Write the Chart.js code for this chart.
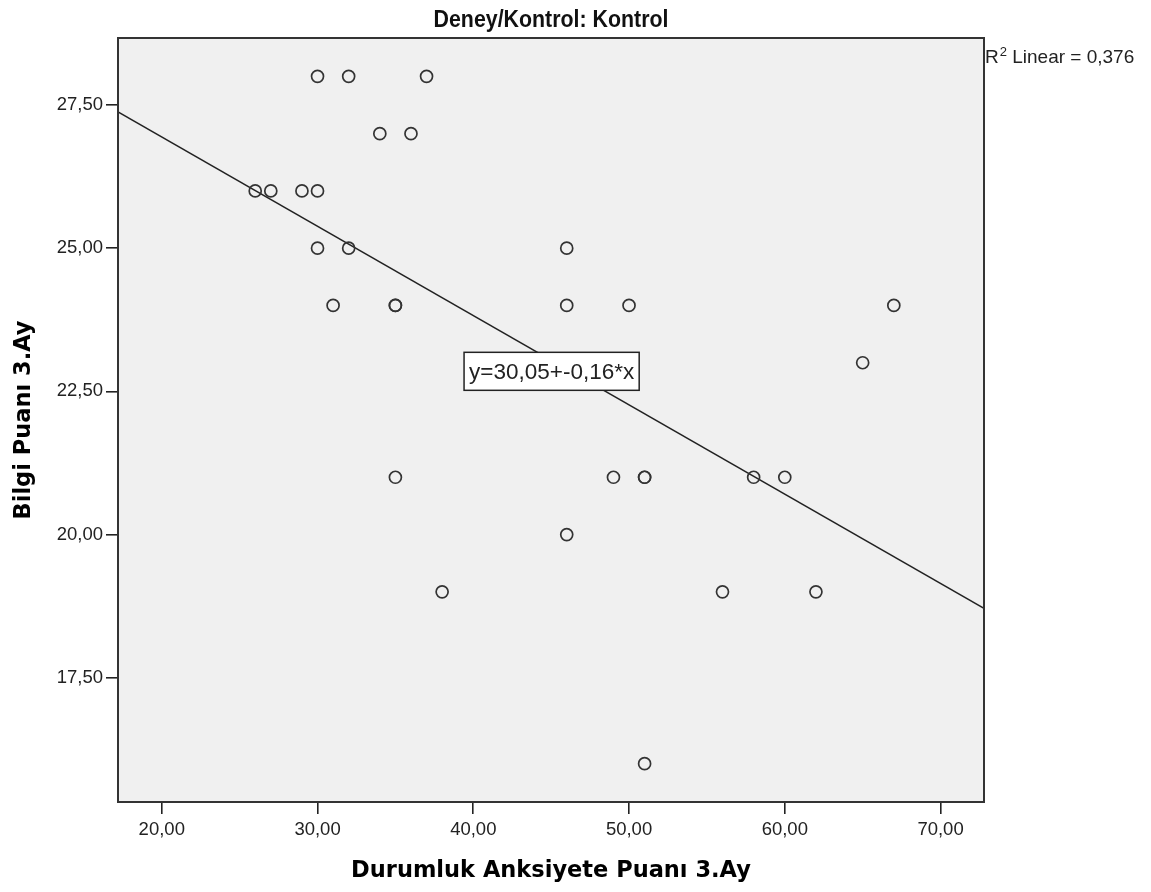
<!DOCTYPE html>
<html>
<head>
<meta charset="utf-8">
<title>Deney/Kontrol: Kontrol</title>
<script src="https://cdn.jsdelivr.net/npm/chart.js@4.4.1/dist/chart.umd.min.js"></script>
<style>
  html, body { margin: 0; padding: 0; background: #fff; }
  canvas { display: block; }
</style>
</head>
<body>
<canvas id="scatter" width="1151" height="892"></canvas>
<script>
// Kontrol grubu, 3. ay: anksiyete puanı (x) ve bilgi puanı (y)
const anksiyete = [30, 32, 37, 34, 36, 26, 27, 29, 30, 30, 32, 46, 31, 35, 35, 46, 50, 67, 65, 35, 49, 51, 51, 58, 60, 46, 38, 56, 62, 51]
const bilgi     = [28, 28, 28, 27, 27, 26, 26, 26, 26, 25, 25, 25, 24, 24, 24, 24, 24, 24, 23, 21, 21, 21, 21, 21, 21, 20, 19, 19, 19, 16]

const xTicks = [20, 30, 40, 50, 60, 70]
const yTicks = [17.5, 20, 22.5, 25, 27.5]
const xRange = [17.19, 72.79]
const yRange = [15.33, 28.67]

const equationText = 'y=30,05+-0,16*x'
const equationAt = { x: 45.03, y: 22.85 }

const comma = (v, d = 2) => v.toFixed(d).replace('.', ',')

// least squares fit for the reference line and R²
function linearFit (xs, ys) {
  const n = xs.length
  const mx = xs.reduce((s, v) => s + v, 0) / n
  const my = ys.reduce((s, v) => s + v, 0) / n
  let sxy = 0, sxx = 0, syy = 0
  xs.forEach((x, i) => {
    sxy += (x - mx) * (ys[i] - my)
    sxx += (x - mx) ** 2
    syy += (ys[i] - my) ** 2
  })
  const slope = sxy / sxx
  return { slope, intercept: my - slope * mx, r2: (sxy * sxy) / (sxx * syy) }
}

const fit = linearFit(anksiyete, bilgi)
const fitAt = x => ({ x, y: fit.intercept + fit.slope * x })

// grey plot panel, frame, panel title, R² note and equation box
const spssFrame = {
  id: 'spssFrame',
  beforeDraw (chart) {
    const { ctx, chartArea: a } = chart
    ctx.save()
    ctx.fillStyle = '#f0f0f0'
    ctx.fillRect(a.left, a.top, a.right - a.left, a.bottom - a.top)
    ctx.restore()
  },
  afterDraw (chart) {
    const { ctx, chartArea: a, scales } = chart
    ctx.save()
    ctx.strokeStyle = '#333'
    ctx.lineWidth = 2
    ctx.strokeRect(a.left, a.top, a.right - a.left, a.bottom - a.top)

    // panel title in a narrow bold face
    ctx.save()
    ctx.fillStyle = '#111'
    ctx.textAlign = 'center'
    ctx.textBaseline = 'alphabetic'
    ctx.font = 'bold 24px "Liberation Sans", sans-serif'
    ctx.translate((a.left + a.right) / 2, 27)
    ctx.scale(0.89, 1)
    ctx.fillText('Deney/Kontrol: Kontrol', 0, 0)
    ctx.restore()

    // R² Linear note, just outside the top right corner
    ctx.textAlign = 'left'
    ctx.textBaseline = 'alphabetic'
    ctx.fillStyle = '#222'
    let x = a.right + 1
    ctx.font = '19px "Liberation Sans", sans-serif'
    ctx.fillText('R', x, a.top + 25)
    x += ctx.measureText('R').width + 1
    ctx.font = '13px "Liberation Sans", sans-serif'
    ctx.fillText('2', x, a.top + 18)
    x += ctx.measureText('2').width
    ctx.font = '19px "Liberation Sans", sans-serif'
    ctx.fillText(' Linear = ' + comma(fit.r2, 3), x, a.top + 25)

    // fit equation in a white box
    const cx = scales.x.getPixelForValue(equationAt.x)
    const cy = scales.y.getPixelForValue(equationAt.y)
    ctx.font = '22.5px "Liberation Sans", sans-serif'
    const w = ctx.measureText(equationText).width + 10
    const h = 38
    ctx.fillStyle = '#fff'
    ctx.fillRect(cx - w / 2, cy - h / 2, w, h)
    ctx.lineWidth = 1.5
    ctx.strokeStyle = '#222'
    ctx.strokeRect(cx - w / 2, cy - h / 2, w, h)
    ctx.fillStyle = '#222'
    ctx.textAlign = 'center'
    ctx.textBaseline = 'middle'
    ctx.fillText(equationText, cx, cy + 1)
    ctx.restore()
  },
}

Chart.defaults.font.family = '"Liberation Sans", Arial, sans-serif'

const axisTitleFont = { family: '"DejaVu Sans", sans-serif', weight: 'bold', size: 22.5 }
const tickMarks = { drawOnChartArea: false, drawTicks: true, tickLength: 12, color: '#222', lineWidth: 1.6 }

new Chart(document.getElementById('scatter'), {
  type: 'scatter',
  data: {
    datasets: [
      {
        label: 'Kontrol',
        data: anksiyete.map((x, i) => ({ x, y: bilgi[i] })),
        pointStyle: 'circle',
        pointRadius: 6,
        pointBorderWidth: 1.7,
        pointBorderColor: '#333',
        pointBackgroundColor: 'rgba(0,0,0,0)',
        order: 1,
      },
      {
        type: 'line',
        label: 'Linear',
        data: [fitAt(xRange[0]), fitAt(xRange[1])],
        borderColor: '#222',
        borderWidth: 1.5,
        pointRadius: 0,
        fill: false,
        order: 2,
      },
    ],
  },
  options: {
    responsive: false,
    animation: false,
    devicePixelRatio: 1,
    layout: { padding: { top: 38, right: 167, left: 0, bottom: 0 } },
    plugins: {
      legend: { display: false },
      tooltip: { enabled: false },
    },
    scales: {
      x: {
        type: 'linear',
        min: xRange[0],
        max: xRange[1],
        afterBuildTicks: axis => { axis.ticks = xTicks.map(value => ({ value })) },
        afterFit: axis => { axis.height = 90 },
        grid: tickMarks,
        border: { display: false },
        ticks: {
          padding: 5,
          color: '#222',
          autoSkip: false,
          maxRotation: 0,
          font: { size: 18.5 },
          callback: v => comma(v),
        },
        title: {
          display: true,
          text: 'Durumluk Anksiyete Puanı 3.Ay',
          color: '#000',
          font: axisTitleFont,
          padding: { top: 0, bottom: 7 },
        },
      },
      y: {
        type: 'linear',
        min: yRange[0],
        max: yRange[1],
        afterBuildTicks: axis => { axis.ticks = yTicks.map(value => ({ value })) },
        afterFit: axis => { axis.width = 118 },
        grid: tickMarks,
        border: { display: false },
        ticks: {
          padding: 3,
          color: '#222',
          autoSkip: false,
          font: { size: 18.5 },
          callback: v => comma(v),
        },
        title: {
          display: true,
          text: 'Bilgi Puanı 3.Ay',
          color: '#000',
          font: axisTitleFont,
          padding: { top: 11, bottom: 0 },
        },
      },
    },
  },
  plugins: [spssFrame],
})
</script>
</body>
</html>
